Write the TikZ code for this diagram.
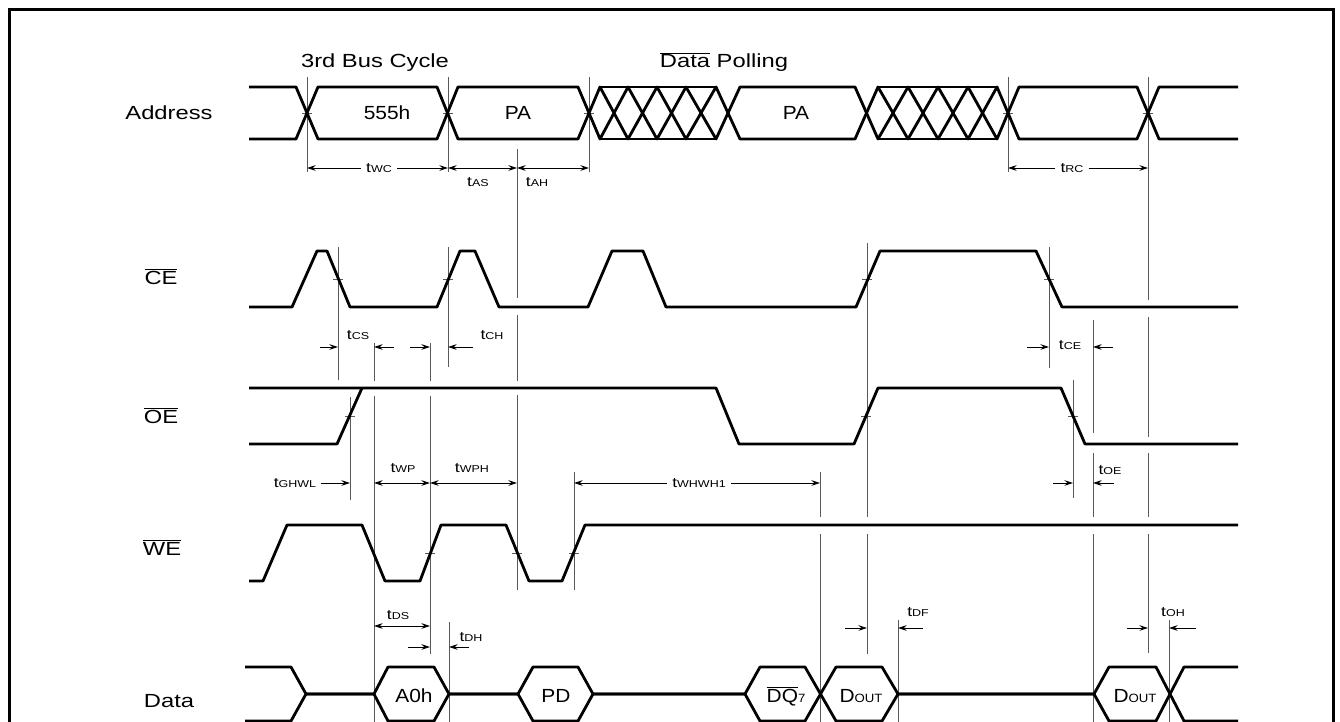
\documentclass[tikz,border=0pt]{standalone}
\usepackage{fontspec}
\setmainfont{Liberation Sans}[FakeStretch=1.25]
\newfontfamily\busfont{Liberation Sans}[FakeStretch=1.1]
\usetikzlibrary{arrows.meta}

\newcommand\labsize{\fontsize{19}{22}\selectfont}
\newcommand\timsize{\fontsize{14}{16}\selectfont}
\newcommand\subsize{\fontsize{10}{12}\selectfont}
\newcommand\busub{\fontsize{12}{14}\selectfont}
\newcommand\tname[1]{{\timsize t\subsize #1}}
\newcommand\ovl[1]{$\overline{\hbox{#1}}$}

\begin{document}
\begin{tikzpicture}[x=1pt, y=-1pt, >={Stealth[length=8.5pt, width=5.5pt]},
    sig/.style={line width=2.8pt, line join=round},
    guide/.style={line width=0.8pt, draw=black!65},
    dim/.style={line width=0.8pt},
    lbl/.style={font=\labsize, anchor=base, inner sep=0pt},
    bus/.style={font=\busfont\labsize, anchor=base, inner sep=0pt},
    tm/.style={inner sep=5pt}]

\useasboundingbox (0,0) rectangle (1340,722);
\draw[line width=3pt] (9,740) -- (9,10) -- (1333,10) -- (1333,740);

% signal names
\node[lbl] (addr) at (169,120) {Address};
\node[lbl] (ce) at (161,284) {\ovl{CE}};
\node[lbl] (oe) at (161,423) {\ovl{OE}};
\node[lbl] (we) at (162,555) {\ovl{WE}};
\node[lbl] (data) at (169,707) {Data};
\node[lbl] (cycle) at (375,68) {3rd Bus Cycle};
\node[lbl] (poll) at (724,68) {\ovl{Data} Polling};

% guide lines
\foreach \x/\a/\b in {307/77/172, 448/77/172, 589/77/172, 1008/77/172,
    1148/77/300, 1148/317/437, 1148/453/517, 1148/534/653,
    517/149/298, 517/315/381, 517/395/590, 338/247/380, 448/247/367,
    374/343/381, 374/396/722, 430/343/381, 430/396/654, 350/397/500,
    574/472/590, 820/472/517, 820/534/722, 867/243/517, 867/534/654,
    1049/247/368, 1093/320/433, 1093/453/517, 1093/534/722, 1073/380/498,
    449/622/722, 898/620/722, 1169/620/722}
  \draw[guide] (\x,\a) -- (\x,\b);

% crossing marks
\foreach \x/\y in {307/113, 448/113, 589/113, 1008/113, 1148/113,
    338/279, 448/279, 867/279, 1049/279, 350/416, 866/416, 1073/416,
    430/553, 517/553, 574/553}
  \draw[guide] (\x-5,\y) -- (\x+5,\y);

% address bus
\foreach \u/\d in {87/139, 139/87}
  \draw[sig] (249,\u) -- (296,\u) -- (318,\d) -- (437,\d) -- (458,\u) -- (578,\u)
    -- (600,\d) -- (628,\u) -- (657,\d) -- (686,\u) -- (716,\d) -- (740,\u) -- (855,\u)
    -- (878,\d) -- (908,\u) -- (938,\d) -- (968,\u) -- (997,\d) -- (1019,\u)
    -- (1137,\u) -- (1159,\d) -- (1238,\d);
\draw[sig] (600,87) -- (716,87) (600,139) -- (716,139)
    (878,87) -- (997,87) (878,139) -- (997,139);
\node[bus] (a555) at (387,120) {555h};
\node[bus] (apa) at (518,120) {PA};
\node[bus] (apb) at (796,120) {PA};

% control lines
\draw[sig] (249,307) -- (292,307) -- (317,251) -- (327,251) -- (350,307) -- (437,307)
    -- (460,251) -- (475,251) -- (499,307) -- (588,307) -- (612,251) -- (643,251)
    -- (666,307) -- (856,307) -- (880,251) -- (1036,251) -- (1062,307) -- (1238,307);
\draw[sig] (249,388) -- (716,388) -- (739,444) -- (854,444) -- (878,388) -- (1061,388)
    -- (1085,444) -- (1238,444);
\draw[sig] (249,444) -- (337,444) -- (362,388);
\draw[sig] (249,581) -- (263,581) -- (287,525) -- (362,525) -- (385,581) -- (420,581)
    -- (441,525) -- (506,525) -- (529,581) -- (562,581) -- (585,525) -- (1238,525);

% data bus
\foreach \u/\d in {667/721, 721/667}
  \draw[sig] (245,\u) -- (291,\u) -- (306,694) -- (374,694) -- (388,\u) -- (434,\u)
    -- (449,694) -- (518,694) -- (533,\u) -- (578,\u) -- (593,694) -- (745,694)
    -- (760,\u) -- (805,\u) -- (836,\d) -- (882,\d) -- (898,694) -- (1094,694)
    -- (1109,\u) -- (1156,\u) -- (1184,\d) -- (1238,\d);
\node[bus] (da0) at (414,702) {A0h};
\node[bus] (dpd) at (556,702) {PD};
\node[bus] (ddq) at (786,702) {\ovl{DQ}{\busub 7}};
\node[bus] (dout1) at (861,702) {D{\busub OUT}};
\node[bus] (dout2) at (1135,702) {D{\busub OUT}};

% timing
\node[tm] (twc) at (379,168) {\tname{WC}};
\draw[dim,<-] (307,168) -- (twc);
\draw[dim,->] (twc) -- (448,168);
\node[tm] (tas) at (478,182) {\tname{AS}};
\node[tm] (tah) at (537,182) {\tname{AH}};
\draw[dim,<->] (448,168) -- (517,168);
\draw[dim,<->] (517,168) -- (589,168);
\node[tm] (trc) at (1072,168) {\tname{RC}};
\draw[dim,<-] (1008,168) -- (trc);
\draw[dim,->] (trc) -- (1148,168);

\node[tm] (tcs) at (358,335) {\tname{CS}};
\draw[dim,->] (320,347) -- (338,347);
\draw[dim,->] (394,347) -- (374,347);
\node[tm] (tch) at (492,335) {\tname{CH}};
\draw[dim,->] (410,347) -- (430,347);
\draw[dim,->] (473,347) -- (448,347);
\node[tm] (tce) at (1070,345) {\tname{CE}};
\draw[dim,->] (1027,347) -- (1049,347);
\draw[dim,->] (1113,347) -- (1093,347);

\node[tm] (tghwl) at (295,483) {\tname{GHWL}};
\draw[dim,->] (tghwl) -- (350,483);
\node[tm] (twp) at (403,468) {\tname{WP}};
\draw[dim,<->] (374,483) -- (430,483);
\node[tm] (twph) at (472,468) {\tname{WPH}};
\draw[dim,<->] (430,483) -- (517,483);
\node[tm] (twhwh) at (699,483) {\tname{WHWH1}};
\draw[dim,<-] (574,483) -- (twhwh);
\draw[dim,->] (twhwh) -- (820,483);
\node[tm] (toe) at (1110,470) {\tname{OE}};
\draw[dim,->] (1053,483) -- (1073,483);
\draw[dim,->] (1114,483) -- (1093,483);

\node[tm] (tds) at (398,615) {\tname{DS}};
\draw[dim,<->] (374,626) -- (430,626);
\node[tm] (tdh) at (471,637) {\tname{DH}};
\draw[dim,->] (408,647) -- (430,647);
\draw[dim,->] (469,647) -- (449,647);
\node[tm] (tdf) at (918,612) {\tname{DF}};
\draw[dim,->] (845,628) -- (867,628);
\draw[dim,->] (923,628) -- (898,628);
\node[tm] (toh) at (1173,612) {\tname{OH}};
\draw[dim,->] (1127,628) -- (1148,628);
\draw[dim,->] (1196,628) -- (1169,628);
\end{tikzpicture}
\end{document}
